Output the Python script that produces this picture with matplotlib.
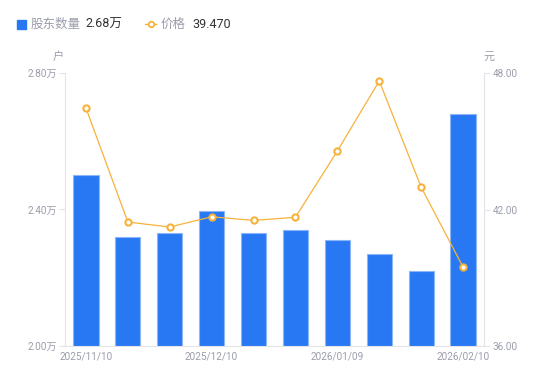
import matplotlib
matplotlib.use("Agg")
import matplotlib.pyplot as plt
from matplotlib.lines import Line2D

plt.rcParams['font.family'] = ['Roboto', 'Noto Sans CJK SC', 'DejaVu Sans']

dates = ["2025/11/10", "", "", "2025/12/10", "", "", "2026/01/09", "", "", "2026/02/10"]
holders = [2.50, 2.32, 2.33, 2.395, 2.33, 2.34, 2.31, 2.27, 2.22, 2.68]  # 万户
prices = [46.46, 41.45, 41.23, 41.68, 41.52, 41.66, 44.57, 47.65, 42.98, 39.47]
left_ticks = [2.00, 2.40, 2.80]
left_labels = ["2.00万", "2.40万", "2.80万"]
right_ticks = [36.00, 42.00, 48.00]
right_labels = ["36.00", "42.00", "48.00"]

BLUE = "#2878F4"
EDGE = "#8DB6F8"
ORANGE = "#F7B23B"
GRAY = "#9B9DAB"
AXIS = "#E3E4E8"

fig = plt.figure(figsize=(5.5, 3.81), dpi=100)
ax = fig.add_axes([65/550, 35/381, 419/550, 273/381])
ax2 = ax.twinx()

x = list(range(len(holders)))
ax.bar(x, holders, width=0.6, color=BLUE, edgecolor=EDGE, linewidth=0.8, zorder=2)
ax.set_xlim(-0.5, len(holders) - 0.5)
ax.set_ylim(2.0, 2.8)
ax.set_yticks(left_ticks)
ax.set_yticklabels(left_labels)
ax.set_xticks(x)
ax.set_xticklabels(dates)

ax2.plot(x, prices, color=ORANGE, linewidth=0.9, marker='o', markersize=4.5,
         markerfacecolor='white', markeredgecolor=ORANGE, markeredgewidth=1.5, zorder=3)
ax2.set_ylim(36, 48)
ax2.set_yticks(right_ticks)
ax2.set_yticklabels(right_labels)

for a in (ax, ax2):
    for s in a.spines.values():
        s.set_visible(False)
ax.spines['left'].set_visible(True)
ax.spines['left'].set_color(AXIS)
ax.spines['bottom'].set_visible(True)
ax.spines['bottom'].set_color(AXIS)
ax2.spines['right'].set_visible(True)
ax2.spines['right'].set_color(AXIS)

ax.tick_params(axis='y', colors=AXIS, labelcolor=GRAY, labelsize=7.2, length=4, width=0.8, pad=2)
ax.tick_params(axis='x', length=0, labelcolor=GRAY, labelsize=7.2, pad=4)
ax2.tick_params(axis='y', colors=AXIS, labelcolor=GRAY, labelsize=7.2, length=4, width=0.8, pad=2)

fig.text(58/550, 1 - 57/381, "户", color=GRAY, fontsize=8, ha='center', va='center')
fig.text(489/550, 1 - 57/381, "元", color=GRAY, fontsize=8, ha='center', va='center')

# legend
fig.patches.append(plt.Rectangle((17/550, 1 - 29/381), 9/550, 9/381, transform=fig.transFigure,
                                 color=BLUE, figure=fig))
fig.text(31/550, 1 - 24/381, "股东数量", color=GRAY, fontsize=9, va='center')
fig.text(85/550, 1 - 24/381, "2.68万", color="#333333", fontsize=9, va='center')
fig.lines.append(Line2D([145/550, 150.5/550, 156/550], [1 - 24/381] * 3, transform=fig.transFigure,
                        color=ORANGE, linewidth=1, marker='o', markersize=4, markevery=[1],
                        markerfacecolor='white', markeredgecolor=ORANGE, markeredgewidth=1.3))
fig.text(161/550, 1 - 24/381, "价格", color=GRAY, fontsize=9, va='center')
fig.text(192/550, 1 - 24/381, "39.470", color="#333333", fontsize=9, va='center')

fig.savefig("out.png", dpi=100)
